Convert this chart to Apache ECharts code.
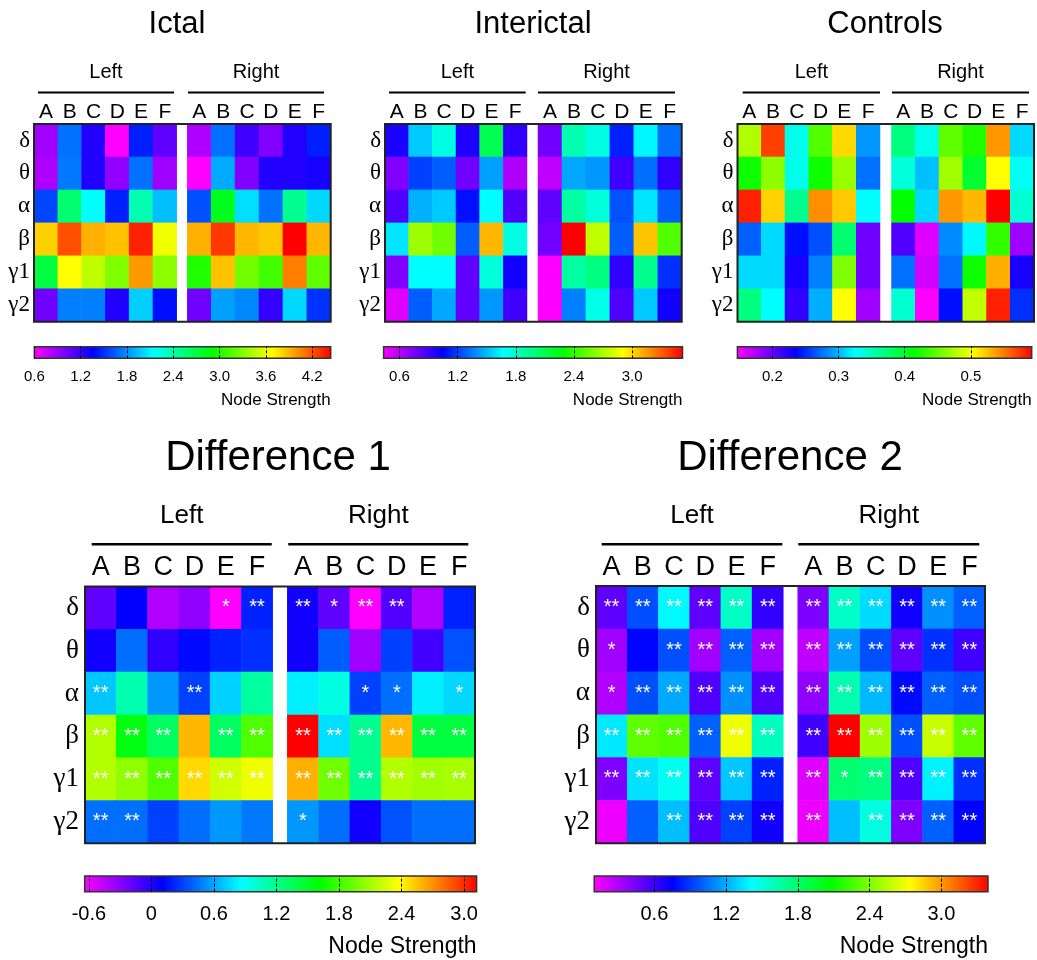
<!DOCTYPE html>
<html><head><meta charset="utf-8">
<script src="https://cdn.jsdelivr.net/npm/echarts@6/dist/echarts.min.js"></script>
<style>html,body{margin:0;padding:0;background:#fff}#c{width:1037px;height:960px}</style>
</head><body><div id="c"></div>
<script>
// ---------------- DATA ----------------
const bands = ['δ','θ','α','β','γ1','γ2'];
const regions = ['A','B','C','D','E','F'];

const ictalLeft = [
 [0.89,1.71,1.27,0.60,1.46,1.08],
 [0.84,1.73,1.27,0.93,1.71,0.89],
 [1.58,2.57,2.14,1.46,2.37,1.94],
 [3.81,4.20,3.91,3.86,4.34,3.63],
 [2.71,3.67,3.48,3.29,3.98,3.33],
 [1.03,1.75,1.75,1.27,1.99,1.41]];
const ictalRight = [
 [0.84,1.71,1.18,0.98,1.27,1.46],
 [0.60,1.88,0.98,1.27,1.27,1.30],
 [1.61,2.81,2.04,1.71,2.47,2.02],
 [3.91,4.27,3.89,3.84,4.44,3.89],
 [3.00,3.86,3.25,3.10,4.06,3.19],
 [1.03,1.85,1.78,1.21,2.02,1.52]];
const interLeft = [
 [0.99,1.54,1.74,0.98,2.09,0.94],
 [0.74,1.21,1.28,0.78,1.44,0.63],
 [0.86,1.48,1.54,1.09,1.67,0.86],
 [1.61,2.67,2.56,1.28,3.08,1.74],
 [0.74,1.67,1.67,0.82,1.76,1.01],
 [0.51,1.28,1.46,0.82,1.42,0.90]];
const interRight = [
 [0.78,1.86,1.74,1.13,1.65,1.32],
 [0.59,1.46,1.42,0.90,1.32,0.94],
 [0.82,1.90,1.76,1.25,1.61,1.28],
 [0.78,3.52,2.75,1.28,3.04,2.48],
 [0.44,1.90,1.98,0.94,1.94,1.17],
 [0.44,1.36,1.73,0.86,1.54,1.01]];
const ctrlLeft = [
 [0.475,0.570,0.332,0.442,0.516,0.289],
 [0.419,0.464,0.332,0.419,0.467,0.275],
 [0.581,0.519,0.364,0.542,0.522,0.325],
 [0.269,0.312,0.241,0.264,0.375,0.197],
 [0.312,0.312,0.228,0.281,0.459,0.197],
 [0.370,0.325,0.219,0.297,0.503,0.180]];
const ctrlRight = [
 [0.370,0.332,0.447,0.425,0.539,0.312],
 [0.338,0.303,0.470,0.397,0.503,0.329],
 [0.414,0.312,0.539,0.528,0.592,0.341],
 [0.208,0.158,0.284,0.323,0.431,0.180],
 [0.275,0.163,0.275,0.419,0.531,0.228],
 [0.341,0.147,0.241,0.481,0.581,0.252]];
const diff1Left = [
 [-0.17,0.11,-0.41,-0.31,-0.64,0.21],
 [0.06,0.44,-0.03,0.14,0.21,0.25],
 [0.70,1.10,0.56,0.30,0.73,1.15],
 [2.14,1.57,1.33,2.58,1.33,1.85],
 [2.14,2.04,1.85,2.48,2.23,2.32],
 [0.44,0.44,0.30,0.44,0.56,0.47]];
const diff1Right = [
 [0.06,-0.17,-0.64,-0.13,-0.41,0.21],
 [0.06,0.39,-0.36,0.30,-0.08,0.35],
 [0.82,0.95,0.30,0.44,0.82,0.75],
 [3.12,0.77,1.19,2.58,1.43,1.43],
 [2.60,1.95,1.19,2.14,2.09,2.11],
 [0.56,0.44,0.06,0.35,0.44,0.44]];
const diff2Left = [
 [0.51,0.96,1.40,0.51,1.56,0.63],
 [0.34,0.76,0.96,0.34,1.00,0.34],
 [0.30,0.96,1.19,0.55,1.13,0.55],
 [1.36,2.32,2.28,1.00,2.69,1.58],
 [0.43,1.34,1.45,0.51,1.27,0.84],
 [0.14,1.00,1.25,0.55,0.92,0.71]];
const diff2Right = [
 [0.43,1.56,1.32,0.71,1.13,1.00],
 [0.26,1.17,0.96,0.51,0.88,0.59],
 [0.38,1.62,1.23,0.78,1.00,0.96],
 [0.59,3.39,2.48,0.96,2.59,2.32],
 [0.18,1.78,1.74,0.55,1.38,0.88],
 [0.14,1.25,1.49,0.43,1.00,0.76]];

const diff1SigLeft = [
 ['','','','','*','**'],
 ['','','','','',''],
 ['**','','','**','',''],
 ['**','**','**','','**','**'],
 ['**','**','**','**','**','**'],
 ['**','**','','','','']];
const diff1SigRight = [
 ['**','*','**','**','',''],
 ['','','','','',''],
 ['','','*','*','','*'],
 ['**','**','**','**','**','**'],
 ['**','**','**','**','**','**'],
 ['*','','','','','']];
const diff2SigLeft = [
 ['**','**','**','**','**','**'],
 ['*','','**','**','**','**'],
 ['*','**','**','**','**','**'],
 ['**','**','**','**','**','**'],
 ['**','**','**','**','**','**'],
 ['','','**','**','**','**']];
const diff2SigRight = [
 ['**','**','**','**','**','**'],
 ['**','**','**','**','**','**'],
 ['**','**','**','**','**','**'],
 ['**','**','**','**','**','**'],
 ['**','*','**','**','**','**'],
 ['**','','**','**','**','**']];

const ictalRange = [0.6, 4.44];
const interRange = [0.436, 3.52];
const ctrlRange = [0.147, 0.592];
const diff1Range = [-0.64, 3.12];
const diff2Range = [0.097, 3.39];

const ictalTicks = [0.6, 1.2, 1.8, 2.4, 3.0, 3.6, 4.2];
const interTicks = [0.6, 1.2, 1.8, 2.4, 3.0];
const ctrlTicks = [0.2, 0.3, 0.4, 0.5];
const diff1Ticks = [-0.6, 0, 0.6, 1.2, 1.8, 2.4, 3.0];
const diff2Ticks = [0.6, 1.2, 1.8, 2.4, 3.0];

const titles = ['Ictal', 'Interictal', 'Controls', 'Difference 1', 'Difference 2'];
const sideNames = ['Left', 'Right'];
const barTitle = 'Node Strength';

// ---------------- STYLE / LAYOUT ----------------
const cmap = ['#ff00ff', '#0000ff', '#00ffff', '#00ff00', '#ffff00', '#ff0000'];
const SANS = '"Liberation Sans", Arial, Helvetica, sans-serif';
const SERIF = '"Liberation Serif", "Times New Roman", "DejaVu Serif", serif';

const smallStyle = {title: 31, titleY: 24, head: 20, headY: 72, lineY: 92.5, lineW: 2,
  col: 21, colMargin: 1, ylab: 23, yMargin: 4, star: 20, cbLab: 15, cbMargin: 11, ns: 17, nsY: 400};
const bigStyle = {title: 42, titleY: 458, head: 26, headY: 516, lineY: 544.3, lineW: 2.5,
  col: 27, colMargin: 5, ylab: 27, yMargin: 6, star: 20, cbLab: 20, cbMargin: 13, ns: 23, nsY: 947};

const panels = [
 {L: ictalLeft, R: ictalRight, range: ictalRange, ticks: ictalTicks, st: smallStyle, titleX: 177,
  box: {x0: 34, g0: 176.7, g1: 187.3, x1: 330.7, top: 124, bottom: 321.7},
  lines: {L: [38, 174], R: [188, 324]}, cb: {x: 34.4, w: 296.3, y: 346.7, h: 11.6}},
 {L: interLeft, R: interRight, range: interRange, ticks: interTicks, st: smallStyle, titleX: 533,
  box: {x0: 385, g0: 527, g1: 538, x1: 681.7, top: 124, bottom: 321.7},
  lines: {L: [389, 525.7], R: [538, 675]}, cb: {x: 383.6, w: 298.9, y: 346.7, h: 11.6}},
 {L: ctrlLeft, R: ctrlRight, range: ctrlRange, ticks: ctrlTicks, st: smallStyle, titleX: 885,
  box: {x0: 737.5, g0: 880, g1: 891.5, x1: 1034, top: 124, bottom: 321.7},
  lines: {L: [742.7, 880], R: [892, 1029]}, cb: {x: 737.4, w: 294.3, y: 346.7, h: 11.6}},
 {L: diff1Left, R: diff1Right, sigL: diff1SigLeft, sigR: diff1SigRight, range: diff1Range, ticks: diff1Ticks, st: bigStyle, titleX: 278,
  box: {x0: 85, g0: 272.7, g1: 287.3, x1: 475, top: 586.5, bottom: 843.3},
  lines: {L: [91.7, 271.7], R: [288.3, 468.3]}, cb: {x: 84.7, w: 391.9, y: 876, h: 15.7}},
 {L: diff2Left, R: diff2Right, sigL: diff2SigLeft, sigR: diff2SigRight, range: diff2Range, ticks: diff2Ticks, st: bigStyle, titleX: 790,
  box: {x0: 596, g0: 783.3, g1: 797.7, x1: 985, top: 586, bottom: 843.3},
  lines: {L: [601.7, 782.3], R: [798.3, 979.3]}, cb: {x: 594.2, w: 393.8, y: 876, h: 15.7}}
];

// ---------------- BUILD ----------------
const grid = [], xAxis = [], yAxis = [], series = [], visualMap = [], graphic = [];
const gradient = {type: 'linear', x: 0, y: 0, x2: 1, y2: 0,
  colorStops: cmap.map((c, k) => ({offset: k / (cmap.length - 1), color: c}))};
const fmt = v => (Math.abs(v) < 1e-9 ? '0' : v.toFixed(1));

panels.forEach((p, i) => {
  const b = p.box, st = p.st;
  const sides = [
    {vals: p.L, sig: p.sigL, x: b.x0, w: b.g0 - b.x0, showY: true},
    {vals: p.R, sig: p.sigR, x: b.g1, w: b.x1 - b.g1, showY: false}
  ];
  const sIdx = [];
  sides.forEach(s => {
    const gi = grid.length;
    grid.push({left: s.x, top: b.top, width: s.w, height: b.bottom - b.top, show: false});
    xAxis.push({gridIndex: gi, type: 'category', data: regions, position: 'top',
      axisLine: {show: false}, axisTick: {show: false}, splitLine: {show: false},
      axisLabel: {fontFamily: SANS, fontSize: st.col, color: '#000', margin: st.colMargin}});
    yAxis.push({gridIndex: gi, type: 'category', data: bands, inverse: true, show: s.showY,
      axisLine: {show: false}, axisTick: {show: false}, splitLine: {show: false},
      axisLabel: {fontFamily: SERIF, fontSize: st.ylab, color: '#000', margin: st.yMargin}});
    const data = [];
    s.vals.forEach((row, r) => row.forEach((v, c) => {
      data.push([c, r, v, s.sig ? s.sig[r][c] : '']);
    }));
    sIdx.push(series.length);
    series.push({type: 'heatmap', xAxisIndex: gi, yAxisIndex: gi, data,
      itemStyle: {borderWidth: 0},
      label: {show: !!s.sig, formatter: q => q.data[3] || '', color: '#fff',
        fontFamily: SANS, fontSize: st.star},
      emphasis: {disabled: true}});
  });
  visualMap.push({type: 'continuous', show: false, min: p.range[0], max: p.range[1],
    dimension: 2, seriesIndex: sIdx, inRange: {color: cmap}});

  // colour bar
  const gi = grid.length, cb = p.cb;
  grid.push({left: cb.x, top: cb.y, width: cb.w, height: cb.h, show: true,
    backgroundColor: gradient, borderColor: '#333', borderWidth: 1.5});
  xAxis.push({gridIndex: gi, type: 'value', min: p.range[0], max: p.range[1], position: 'bottom',
    axisLine: {show: false}, splitLine: {show: false},
    axisTick: {show: true, inside: true, length: cb.h, customValues: p.ticks,
      lineStyle: {type: [3, 2], color: '#000', width: 1}},
    axisLabel: {customValues: p.ticks, formatter: fmt, fontFamily: SANS, fontSize: st.cbLab,
      color: '#000', margin: st.cbMargin}});
  yAxis.push({gridIndex: gi, type: 'value', show: false, min: 0, max: 1});

  // texts and decorations
  graphic.push({type: 'text', x: p.titleX, y: st.titleY,
    style: {text: titles[i], font: st.title + 'px ' + SANS, fill: '#000', align: 'center', verticalAlign: 'middle'}});
  ['L', 'R'].forEach((k, j) => {
    const ln = p.lines[k];
    graphic.push({type: 'line', shape: {x1: ln[0], y1: st.lineY, x2: ln[1], y2: st.lineY},
      style: {stroke: '#000', lineWidth: st.lineW}});
    graphic.push({type: 'text', x: (ln[0] + ln[1]) / 2, y: st.headY,
      style: {text: sideNames[j], font: st.head + 'px ' + SANS, fill: '#000', align: 'center', verticalAlign: 'middle'}});
  });
  graphic.push({type: 'rect', z: 100, shape: {x: b.x0, y: b.top, width: b.x1 - b.x0, height: b.bottom - b.top},
    style: {fill: 'transparent', stroke: '#222', lineWidth: 2}});
  graphic.push({type: 'text', x: cb.x + cb.w, y: st.nsY,
    style: {text: barTitle, font: st.ns + 'px ' + SANS, fill: '#000', align: 'right', verticalAlign: 'middle'}});
});

const chart = echarts.init(document.getElementById('c'), null, {renderer: 'canvas'});
chart.setOption({
  animation: false,
  backgroundColor: '#fff',
  grid, xAxis, yAxis, series, visualMap, graphic
});
</script></body></html>
